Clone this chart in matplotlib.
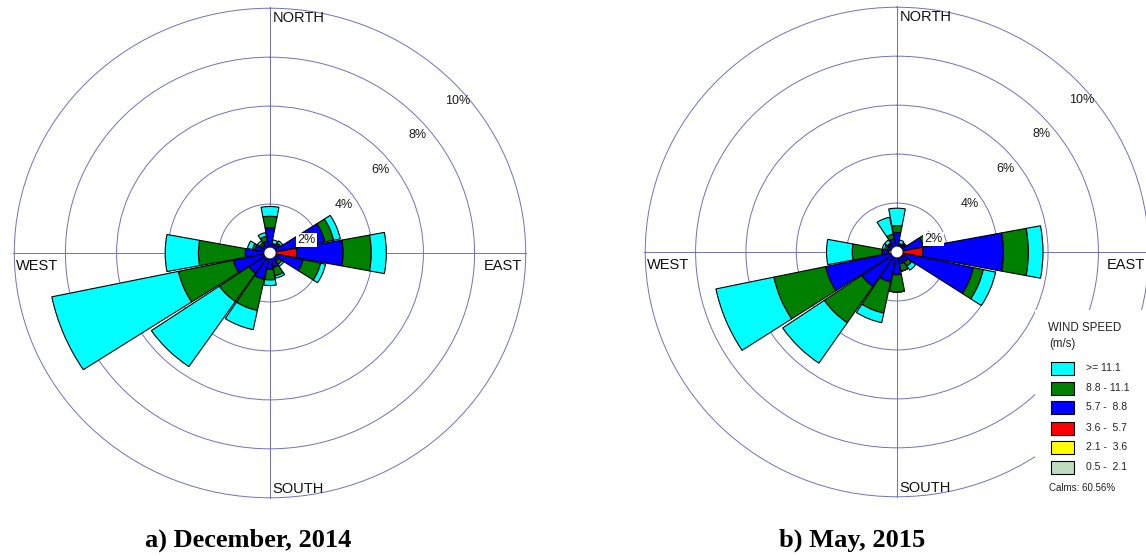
import numpy as np
import matplotlib
matplotlib.use('Agg')
import matplotlib.pyplot as plt
from matplotlib.patches import Rectangle

# 16 compass sectors, clockwise from north
directions = ['N', 'NNE', 'NE', 'ENE', 'E', 'ESE', 'SE', 'SSE',
              'S', 'SSW', 'SW', 'WSW', 'W', 'WNW', 'NW', 'NNW']

speed_labels = ['0.5 -  2.1', '2.1 -  3.6', '3.6 -  5.7',
                '5.7 -  8.8', '8.8 - 11.1', '>= 11.1']
speed_colors = ['#c0dcc0', '#ffff00', '#ff0000', '#0000ff', '#008000', '#00ffff']

# frequency (%) of each speed class per direction -- December 2014
dec_05_21 = [.03, .03, .03, .03, .05, .03, .03, .03, .03, .03, .03, .03, .03, .03, .03, .03]
dec_21_36 = [.05, .03, .03, .05, .10, .05, .03, .03, .03, .03, .03, .03, .03, .03, .03, .03]
dec_36_57 = [.10, .06, .06, .17, .89, .12, .06, .06, .06, .06, .06, .06, .06, .06, .06, .06]
dec_57_88 = [.85, .23, .33, 1.94, 1.82, 1.12, .28, .48, .55, .98, .88, 1.34, .85, .48, .28, .38]
dec_88_111 = [.47, .05, .05, .35, 1.10, .70, .15, .35, .43, 1.30, 1.40, 2.20, 1.83, .10, .10, .20]
dec_111_up = [.40, .15, .10, .27, .59, .20, .10, .10, .23, .80, 3.22, 5.06, 1.30, .20, .10, .15]

# May 2015
may_05_21 = [.03, .03, .03, .03, .05, .03, .03, .03, .03, .03, .03, .03, .05, .03, .03, .03]
may_21_36 = [.03, .03, .03, .03, .10, .03, .03, .03, .03, .03, .03, .03, .28, .03, .03, .03]
may_36_57 = [.06, .06, .06, .09, .88, .24, .06, .06, .06, .06, .06, .06, .03, .06, .06, .06]
may_57_88 = [.68, .18, .23, .92, 3.20, 2.80, .38, .38, .81, 1.13, 1.58, 2.78, .24, .28, .28, .43]
may_88_111 = [.28, .05, .05, .40, .99, .40, .20, .30, .70, 1.30, 1.80, 2.10, 1.18, .10, .05, .20]
may_111_up = [.71, .15, .05, .03, .58, .50, .20, .00, .00, .40, 2.00, 2.35, 1.02, .10, .15, .70]
may_calms = 60.56

ring_pct = [2, 4, 6, 8, 10]

W, H = 1146, 556
fig = plt.figure(figsize=(W / 100, H / 100), dpi=100)
fig.patch.set_facecolor('white')


def px(x, y):
    return x / W, 1 - y / H


grid_col = '#7070c4'
label_pos = [(69.8, 1.53), (55.9, 3.48), (52.0, 5.48), (50.2, 7.5), (49.8, 9.63)]


def rose(rect, classes):
    ax = fig.add_axes(rect, projection='polar')
    ax.set_aspect('auto')
    ax.set_theta_zero_location('N')
    ax.set_theta_direction(-1)
    ax.set_ylim(0, 10.05)
    ax.set_rgrids(ring_pct, labels=[])
    ax.set_thetagrids([0, 90, 180, 270], labels=[])
    ax.grid(True, color=grid_col, lw=0.7)
    ax.spines['polar'].set_visible(False)
    ax.set_facecolor('none')

    theta = np.deg2rad(np.arange(16) * 22.5)
    width = np.deg2rad(21.3)
    base = np.zeros(16)
    for vals, col in zip(classes, speed_colors):
        vals = np.array(vals)
        ax.bar(theta, vals, width=width, bottom=base, color=col,
               edgecolor='black', lw=0.8, zorder=3)
        base = base + vals
    # calm circle in the middle
    ax.bar(0, 0.22, width=2 * np.pi, bottom=0, color='white',
           edgecolor='none', zorder=4)

    for (ang, r), p in zip(label_pos, ring_pct):
        kw = dict(ha='center', va='center', fontsize=9, family='Liberation Sans',
                  color='#1a1a1a', zorder=5)
        if p == 2:
            kw['bbox'] = dict(boxstyle='square,pad=0.1', fc='white', ec='none')
        ax.text(np.deg2rad(ang), r, f'{p}%', **kw)
    return ax


ax1 = rose([13 / W, 57 / H, 514 / W, 492 / H],
           [dec_05_21, dec_21_36, dec_36_57, dec_57_88, dec_88_111, dec_111_up])
ax2 = rose([644 / W, 58 / H, 506 / W, 492 / H],
           [may_05_21, may_21_36, may_36_57, may_57_88, may_88_111, may_111_up])

for ax in (ax1, ax2):
    tk = dict(transform=ax.transAxes, fontsize=10.5, family='Liberation Sans',
              color='#111111', va='center', zorder=6)
    ax.text(0.505, 0.978, 'NORTH', ha='left', **tk)
    ax.text(0.505, 0.020, 'SOUTH', ha='left', **tk)
    ax.text(0.006, 0.474, 'WEST', ha='left', **tk)
    ax.text(0.990, 0.474, 'EAST', ha='right', **tk)

# legend block, drawn over the rings
x0, y0 = px(1035, 505)
fig.patches.append(Rectangle((x0, y0), 1 - x0, (505 - 310) / H, transform=fig.transFigure,
                             fc='white', ec='none', zorder=10))
lt = dict(family='Liberation Sans', color='#222222', zorder=11)
fig.text(*px(1048, 328), 'WIND SPEED', fontsize=8.3, va='center', ha='left', **lt)
fig.text(*px(1049, 344), '(m/s)', fontsize=8.3, va='center', ha='left', **lt)
row_y = [467, 447, 428, 407, 388, 368]
for lab, col, yy in zip(speed_labels, speed_colors, row_y):
    bx, by = px(1051, yy + 6.5)
    fig.patches.append(Rectangle((bx, by), 23 / W, 13 / H, transform=fig.transFigure,
                                 fc=col, ec='black', lw=0.8, zorder=11))
    fig.text(*px(1086, yy), lab, fontsize=7.5, va='center', ha='left', **lt)
fig.text(*px(1049, 488), f'Calms: {may_calms:.2f}%', fontsize=7, va='center', ha='left', **lt)

tt = dict(fontsize=19, family='Liberation Serif', weight='bold', ha='center', va='center')
fig.text(*px(248, 540), 'a) December, 2014', **tt)
fig.text(*px(852, 540), 'b) May, 2015', **tt)

fig.savefig('out.png', dpi=100, facecolor='white')
